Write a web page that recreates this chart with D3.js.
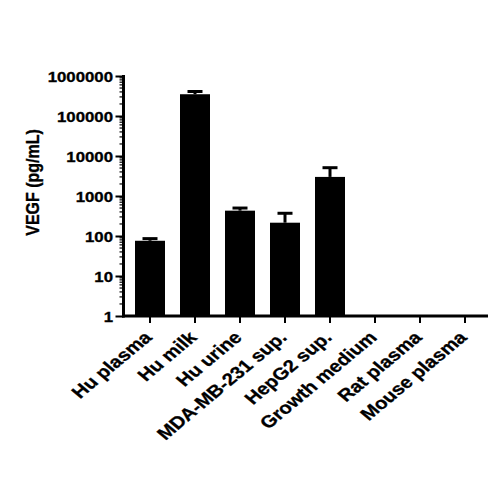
<!DOCTYPE html>
<html><head><meta charset="utf-8">
<script src="https://cdn.jsdelivr.net/npm/d3@7"></script>
<style>body{margin:0;background:#fff}svg{display:block}text{font-family:Arial,"Liberation Sans",sans-serif;font-weight:bold;fill:#000}</style>
</head><body>
<svg id="c" width="500" height="500"></svg>
<script>
const categories = ["Hu plasma","Hu milk","Hu urine","MDA-MB-231 sup.","HepG2 sup.","Growth medium","Rat plasma","Mouse plasma"];
const values = [76, 350000, 430, 215, 3000, null, null, null];
const errors = [86, 410000, 500, 370, 5100, null, null, null];
const yTicks = [1,10,100,1000,10000,100000,1000000];

const svg = d3.select("#c");
const SX = 1.2; // horizontal stretch of text seen in the reference
const FONT = "Arial,'Liberation Sans',sans-serif";
const x0 = 123.5, x1 = 488, yTop = 76, yBot = 316;
const x = d3.scaleBand().domain(categories).range([127.5, 487.5]).paddingInner(1/3).paddingOuter(1/6);
const y = d3.scaleLog().domain([1, 1000000]).range([yBot, yTop]);

// bars
svg.append("g").selectAll("rect").data(categories.map((c,i)=>({c,v:values[i],e:errors[i]})).filter(d=>d.v!=null))
  .join("rect").attr("x",d=>x(d.c)).attr("width",x.bandwidth())
  .attr("y",d=>y(d.v)).attr("height",d=>yBot-y(d.v)).attr("fill","#000");
// error bars
const eg = svg.append("g").attr("stroke","#000").attr("stroke-width",3);
categories.forEach((c,i)=>{
  if(values[i]==null) return;
  const cx = x(c)+x.bandwidth()/2;
  eg.append("line").attr("x1",cx).attr("x2",cx).attr("y1",y(values[i])).attr("y2",y(errors[i]));
  eg.append("line").attr("x1",cx-7.5).attr("x2",cx+7.5).attr("y1",y(errors[i])).attr("y2",y(errors[i]));
});

// y axis
const ya = svg.append("g").attr("transform",`translate(${x0},0)`)
  .call(d3.axisLeft(y).tickValues(yTicks).tickFormat(d3.format("d")).tickSize(8).tickPadding(2));
ya.select(".domain").remove();
ya.selectAll(".tick line").attr("stroke-width",2);
ya.selectAll("text").style("font-size","14px").style("font-family",FONT).style("font-weight","bold")
  .attr("stroke","#000").attr("stroke-width",0.3)
  .attr("x",0).attr("dy","0.36em").attr("transform",`translate(-10.5,0) scale(${SX},1)`);
// minor ticks
const minor = [];
for(let d=1; d<1000000; d*=10) for(let k=2;k<10;k++) minor.push(d*k);
svg.append("g").selectAll("line").data(minor).join("line")
  .attr("x1",x0-4).attr("x2",x0).attr("y1",d=>y(d)).attr("y2",d=>y(d)).attr("stroke","#000").attr("stroke-width",1.2);
svg.append("line").attr("x1",x0).attr("x2",x0).attr("y1",yTop-1).attr("y2",yBot+1.5).attr("stroke","#000").attr("stroke-width",3);

// x axis
const xa = svg.append("g").attr("transform",`translate(0,${yBot})`)
  .call(d3.axisBottom(x).tickSize(7).tickPadding(4));
xa.select(".domain").remove();
xa.selectAll(".tick line").attr("stroke-width",2);
xa.selectAll("text").style("font-size","17px").style("font-family",FONT).style("font-weight","bold")
  .attr("stroke","#000").attr("stroke-width",0.3)
  .attr("text-anchor","end").attr("x",0).attr("y",0).attr("dy",0)
  .attr("transform",`translate(3,22.5) scale(${SX},1) rotate(-45)`);
svg.append("line").attr("x1",x0-1.5).attr("x2",x1).attr("y1",yBot).attr("y2",yBot).attr("stroke","#000").attr("stroke-width",3);

// y label
svg.append("text").attr("transform",`translate(39,182.5) scale(${SX},1) rotate(-90)`).attr("text-anchor","middle")
  .attr("stroke","#000").attr("stroke-width",0.3)
  .style("font-size","16px").text("VEGF (pg/mL)");
</script>
</body></html>
